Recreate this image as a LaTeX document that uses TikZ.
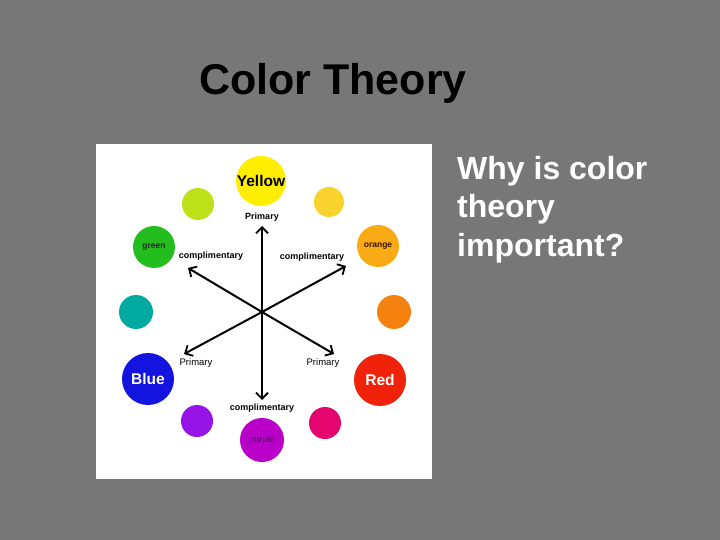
\documentclass[tikz,border=0pt]{standalone}
\usepackage{fontspec}
\setmainfont{Liberation Sans}
\usetikzlibrary{arrows.meta}
\definecolor{bg}{RGB}{119,119,119}
\definecolor{cyellow}{RGB}{255,238,0}
\definecolor{cygreen}{RGB}{190,225,25}
\definecolor{cyorange}{RGB}{250,210,45}
\definecolor{cgreen}{RGB}{35,190,30}
\definecolor{corange}{RGB}{250,170,20}
\definecolor{cteal}{RGB}{0,170,160}
\definecolor{cdorange}{RGB}{245,130,15}
\definecolor{cblue}{RGB}{20,20,225}
\definecolor{cred}{RGB}{240,35,10}
\definecolor{cviolet}{RGB}{150,20,230}
\definecolor{cpink}{RGB}{228,5,110}
\definecolor{cpurple}{RGB}{185,0,200}
\definecolor{txtpurple}{RGB}{90,0,110}
\tikzset{
  dot/.style={circle, inner sep=0pt, draw=none},
  lbl/.style={font=\bfseries\fontsize{9}{10}\selectfont, inner sep=0pt},
  lblr/.style={font=\fontsize{9.5}{10}\selectfont, inner sep=0pt},
  big/.style={font=\bfseries\fontsize{15.5}{18}\selectfont, inner sep=0pt},
  arr/.style={line width=2pt, -{Straight Barb[length=6pt,width=12pt,line width=1.8pt]}}
}
\begin{document}
\begin{tikzpicture}[x=1pt,y=-1pt]
\fill[bg] (0,0) rectangle (720,540);
\useasboundingbox (0,0) rectangle (720,540);
\node[font=\bfseries\fontsize{43}{48}\selectfont, anchor=base west, inner sep=0pt] (title) at (199,95) {Color Theory};
\node[font=\bfseries\fontsize{32}{38.5}\selectfont, text=white, anchor=north west, align=left, inner sep=0pt] (why) at (457,156) {Why is color\\theory\\important?};
\fill[white] (96,144) rectangle (432,479);
% circles
\node[dot, fill=cyellow, minimum size=50pt] (yellow) at (261,181) {};
\node[dot, fill=cygreen, minimum size=32pt] (yg) at (198,204) {};
\node[dot, fill=cyorange, minimum size=30pt] (yo) at (329,202) {};
\node[dot, fill=cgreen, minimum size=42pt] (green) at (154,247) {};
\node[dot, fill=corange, minimum size=42pt] (orange) at (378,246) {};
\node[dot, fill=cteal, minimum size=34pt] (teal) at (136,312) {};
\node[dot, fill=cdorange, minimum size=34pt] (dorange) at (394,312) {};
\node[dot, fill=cblue, minimum size=52pt] (blue) at (148,379) {};
\node[dot, fill=cred, minimum size=52pt] (red) at (380,380) {};
\node[dot, fill=cviolet, minimum size=32pt] (violet) at (197,421) {};
\node[dot, fill=cpink, minimum size=32pt] (pink) at (325,423) {};
\node[dot, fill=cpurple, minimum size=44pt] (purple) at (262,440) {};
% texts in circles
\node[big] at (yellow) {Yellow};
\node[big, text=white] at (blue) {Blue};
\node[big, text=white] at (red) {Red};
\node[font=\bfseries\fontsize{8.5}{9}\selectfont, text=black!85, inner sep=0pt] at (green) {green};
\node[font=\bfseries\fontsize{8.5}{9}\selectfont, text=black!80!orange, inner sep=0pt] at (orange) {orange};
\node[font=\fontsize{9.5}{10}\selectfont, text=txtpurple, inner sep=0pt] at (purple) {purple};
% arrows
\coordinate (c) at (262,312);
\coordinate (tu) at (262,226);
\coordinate (td) at (262,400);
\coordinate (tul) at (188,268);
\coordinate (tur) at (346,266);
\coordinate (tdl) at (184,354);
\coordinate (tdr) at (334,354);
\draw[arr] (c) -- (tu);
\draw[arr] (c) -- (td);
\draw[arr] (c) -- (tul);
\draw[arr] (c) -- (tur);
\draw[arr] (c) -- (tdl);
\draw[arr] (c) -- (tdr);
% labels
\node[lbl] (p1) at (262,217) {Primary};
\node[lbl] (c1) at (211,256) {complimentary};
\node[lbl] (c2) at (312,257) {complimentary};
\node[lblr] (p2) at (196,363) {Primary};
\node[lblr] (p3) at (323,363) {Primary};
\node[lbl] (c3) at (262,408) {complimentary};
\end{tikzpicture}
\end{document}
